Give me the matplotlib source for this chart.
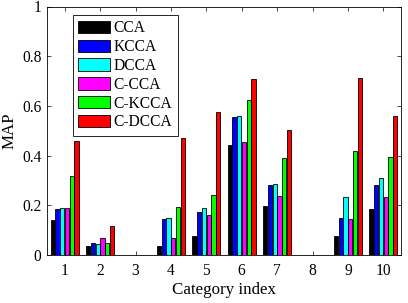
import numpy as np
import matplotlib.pyplot as plt

plt.rcParams['font.family'] = ['Liberation Serif', 'DejaVu Serif']

categories = [1, 2, 3, 4, 5, 6, 7, 8, 9, 10]
methods = ["CCA", "KCCA", "DCCA", "C-CCA", "C-KCCA", "C-DCCA"]
colors = ["#000000", "#0000ff", "#00ffff", "#ff00ff", "#00ff00", "#ff0000"]

cca    = [0.141, 0.038, 0.0, 0.038, 0.077, 0.444, 0.198, 0.0, 0.078, 0.185]
kcca   = [0.185, 0.048, 0.0, 0.144, 0.175, 0.554, 0.281, 0.0, 0.148, 0.280]
dcca   = [0.188, 0.043, 0.0, 0.148, 0.190, 0.560, 0.285, 0.0, 0.235, 0.310]
c_cca  = [0.188, 0.069, 0.0, 0.067, 0.160, 0.454, 0.239, 0.0, 0.144, 0.235]
c_kcca = [0.316, 0.048, 0.0, 0.194, 0.240, 0.624, 0.390, 0.0, 0.420, 0.396]
c_dcca = [0.458, 0.116, 0.0, 0.470, 0.575, 0.710, 0.504, 0.0, 0.711, 0.560]

series = [cca, kcca, dcca, c_cca, c_kcca, c_dcca]

fig = plt.figure(figsize=(4.08, 3.03), dpi=100)
ax = fig.add_axes([47 / 408, 1 - 255 / 303, 354 / 408, 248.5 / 303])

x = np.array(categories)
n = len(series)
w = 0.8 / n
for i, (vals, name, c) in enumerate(zip(series, methods, colors)):
    ax.bar(x + (i - (n - 1) / 2) * w, vals, width=w * 0.9, color=c,
           edgecolor='black', linewidth=0.6, label=name)

ax.set_xlim(0.5, 10.5)
ax.set_ylim(0, 1)
ax.set_xticks(categories)
ax.set_yticks([0, 0.2, 0.4, 0.6, 0.8, 1])
ax.set_yticklabels(["0", "0.2", "0.4", "0.6", "0.8", "1"])
ax.tick_params(direction='in', top=True, right=True, labelsize=11.2, length=3, width=0.5)
ax.tick_params(axis='x', pad=6)
ax.tick_params(axis='y', pad=4)
for s in ax.spines.values():
    s.set_linewidth(0.6)
ax.set_xlabel("Category index", fontsize=12.2, labelpad=2)
ax.set_ylabel("MAP", fontsize=12.2, labelpad=3)

leg = ax.legend(loc='upper left', bbox_to_anchor=(0.0734, 0.966), fontsize=11.2,
                frameon=True, fancybox=False, edgecolor='black', framealpha=1,
                handlelength=2.05, handleheight=0.85, labelspacing=0.18,
                handletextpad=0.2, borderpad=0.35, borderaxespad=0)
leg.get_frame().set_linewidth(0.6)

fig.savefig("out.png", dpi=100)
